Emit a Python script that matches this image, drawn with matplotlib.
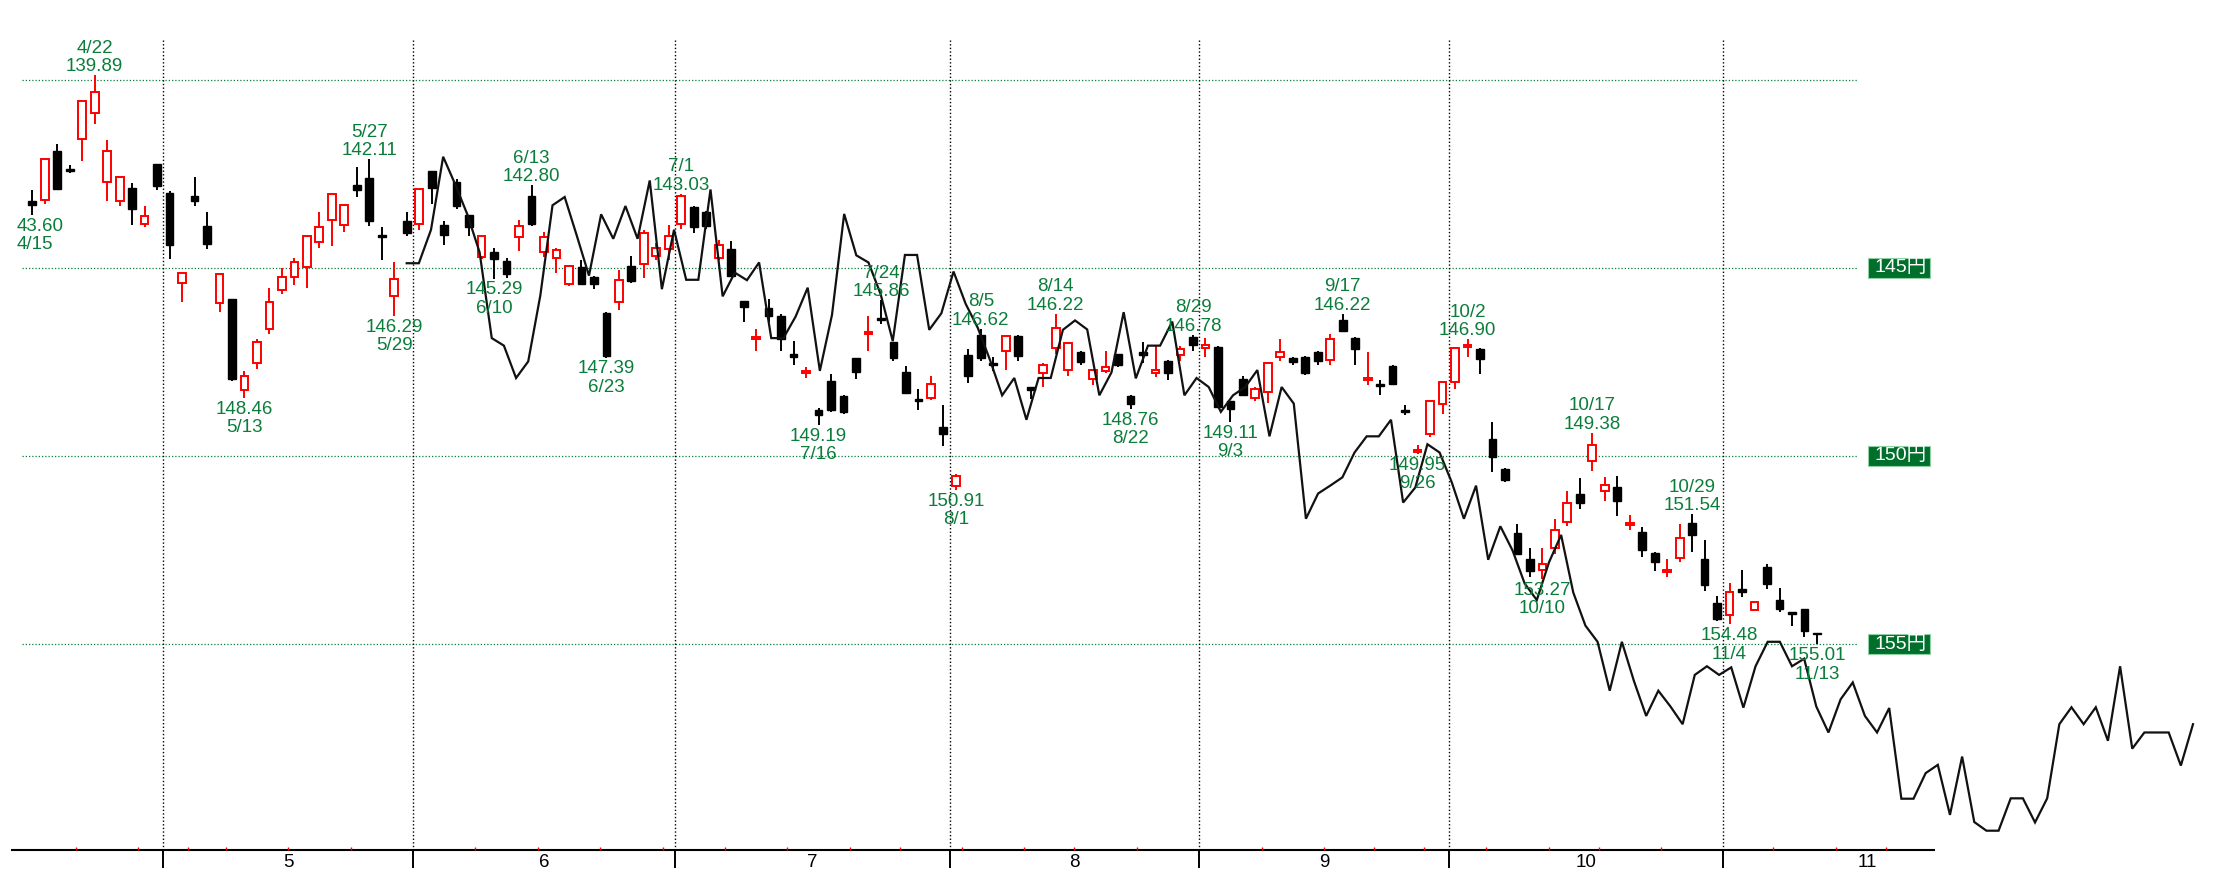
import matplotlib
matplotlib.use("Agg")
import matplotlib.pyplot as plt
from matplotlib.patches import Rectangle
import numpy as np

# ---------------------------------------------------------------- data
# daily candles, index 0 = 4/15 ... 143 = 11/13 (Tokyo business days), yen per dollar
opens = [143.23, 143.20, 141.91, 142.37, 141.59, 140.88, 142.71, 143.22, 142.87, 143.85,
         142.25, 143.01, 145.41, 143.10, 143.88, 145.95, 145.84, 148.26, 147.54, 146.64,
         145.59, 145.24, 144.99, 144.32, 143.72, 143.86, 142.80, 142.61, 144.13, 145.75,
         143.77, 143.83, 142.43, 143.86, 142.71, 143.59, 144.72, 144.57, 144.83, 144.18,
         143.10, 144.59, 144.75, 145.43, 144.98, 145.24, 146.20, 145.91, 144.95, 144.91,
         144.68, 144.51, 143.83, 143.39, 143.52, 144.75, 144.51, 145.89, 146.89, 146.08,
         146.29, 147.30, 147.79, 148.77, 148.01, 148.42, 147.41, 146.77, 146.33, 146.98,
         147.77, 148.48, 148.47, 149.23, 150.80, 147.33, 146.78, 147.52, 147.22, 146.82,
         148.17, 147.79, 147.14, 147.71, 147.25, 147.96, 147.74, 147.30, 148.41, 147.25,
         147.80, 147.47, 147.33, 146.84, 147.14, 147.11, 148.55, 147.96, 148.47, 148.30,
         147.38, 147.41, 147.36, 147.24, 147.45, 146.40, 146.87, 147.98, 148.10, 147.60,
         148.79, 149.89, 149.42, 148.63, 148.04, 147.11, 147.16, 149.56, 150.35, 152.06,
         152.74, 153.04, 152.46, 151.75, 151.00, 150.13, 150.94, 150.83, 151.84, 152.01,
         152.57, 153.09, 152.71, 151.78, 152.74, 153.91, 154.23, 153.54, 154.10, 152.94,
         153.83, 154.15, 154.08, 154.70]
closes = [143.32, 142.11, 142.92, 142.42, 140.58, 140.32, 141.89, 142.59, 143.43, 143.62,
          142.84, 144.39, 145.13, 143.22, 144.37, 145.17, 147.96, 147.88, 146.98, 145.90,
          145.25, 144.84, 144.15, 143.91, 143.04, 143.32, 142.93, 143.76, 144.17, 145.29,
          144.07, 142.92, 142.87, 144.12, 143.36, 143.91, 144.15, 144.77, 145.16, 143.88,
          143.85, 144.17, 144.54, 144.95, 145.43, 145.43, 147.34, 145.32, 145.35, 144.08,
          144.48, 144.15, 143.08, 143.93, 143.90, 144.39, 145.22, 146.04, 146.85, 146.29,
          146.90, 147.36, 147.75, 148.91, 148.77, 148.83, 147.76, 146.71, 146.39, 147.41,
          148.34, 148.55, 148.10, 149.42, 150.54, 147.88, 147.39, 147.58, 146.82, 147.34,
          148.24, 147.58, 146.60, 147.00, 147.50, 147.72, 147.63, 147.58, 148.61, 147.33,
          147.71, 147.79, 147.16, 147.05, 147.05, 148.70, 148.75, 148.39, 148.21, 147.54,
          147.24, 147.50, 147.79, 147.49, 146.90, 146.68, 147.17, 147.92, 148.14, 148.10,
          148.83, 149.84, 148.55, 148.04, 147.12, 147.05, 147.43, 150.04, 150.64, 152.60,
          153.07, 152.87, 151.97, 151.26, 151.24, 149.71, 150.77, 151.19, 151.78, 152.51,
          152.83, 153.02, 152.17, 152.10, 153.43, 154.33, 153.61, 153.61, 153.88, 153.41,
          154.08, 154.20, 154.64, 154.74]
lows = [142.93, 142.11, 141.71, 142.28, 140.58, 139.89, 141.61, 142.59, 142.74, 143.37,
        142.25, 142.96, 145.13, 142.58, 143.51, 145.17, 145.84, 147.74, 146.90, 145.54,
        145.00, 144.74, 144.15, 143.53, 143.04, 143.32, 142.32, 142.11, 143.93, 144.86,
        143.53, 142.92, 142.43, 143.77, 142.63, 143.59, 144.15, 144.48, 144.74, 143.72,
        142.80, 144.04, 144.48, 144.95, 144.80, 145.22, 146.18, 145.07, 144.70, 143.99,
        144.35, 143.87, 143.03, 143.37, 143.50, 144.26, 144.29, 145.88, 146.63, 145.84,
        146.24, 146.95, 147.63, 148.72, 147.83, 148.37, 147.40, 146.29, 145.86, 146.97,
        147.61, 148.23, 147.87, 148.66, 150.48, 147.17, 146.62, 147.36, 146.80, 146.80,
        148.17, 147.52, 146.22, 146.98, 147.20, 147.70, 147.20, 147.28, 148.38, 146.98,
        147.09, 147.45, 147.07, 146.78, 146.87, 147.09, 148.53, 147.87, 148.17, 147.52,
        146.90, 147.36, 147.34, 147.22, 146.76, 146.22, 146.85, 147.25, 147.99, 147.58,
        148.64, 149.70, 148.53, 148.00, 147.10, 146.90, 147.14, 149.11, 150.33, 151.82,
        152.46, 152.46, 151.69, 150.94, 150.58, 149.38, 150.57, 150.53, 151.56, 151.89,
        152.55, 152.74, 151.82, 151.54, 152.23, 153.72, 153.39, 153.02, 153.87, 152.87,
        153.50, 154.15, 154.06, 154.70]
highs = [143.60, 143.30, 142.92, 142.47, 142.15, 141.18, 143.22, 143.35, 143.86, 143.93,
         142.93, 144.77, 145.92, 143.36, 144.51, 146.18, 148.02, 148.46, 147.70, 146.76,
         145.71, 145.45, 145.53, 144.47, 144.43, 144.05, 143.11, 143.90, 144.80, 146.29,
         144.15, 143.99, 143.30, 144.39, 143.43, 144.15, 144.78, 145.29, 145.26, 144.55,
         143.90, 144.72, 145.13, 145.48, 145.45, 145.57, 147.39, 146.13, 145.40, 145.26,
         144.80, 144.80, 143.97, 144.07, 143.96, 144.80, 145.24, 146.43, 147.22, 146.43,
         147.22, 147.58, 147.92, 149.19, 148.83, 148.88, 147.96, 147.22, 146.49, 147.49,
         148.36, 148.77, 148.52, 149.75, 150.91, 148.07, 147.49, 147.74, 147.71, 147.47,
         148.50, 148.17, 147.28, 147.87, 147.58, 148.12, 147.79, 147.63, 148.76, 147.52,
         147.90, 147.98, 147.47, 147.22, 147.38, 148.72, 149.11, 148.41, 148.53, 148.59,
         147.49, 147.58, 147.85, 147.58, 147.58, 146.70, 147.58, 148.12, 148.39, 148.12,
         148.90, 149.95, 149.50, 148.88, 148.23, 147.38, 147.82, 150.44, 150.70, 152.62,
         153.21, 153.27, 152.60, 151.87, 151.42, 150.41, 151.20, 151.61, 151.98, 152.68,
         153.07, 153.22, 152.81, 152.55, 153.58, 154.39, 154.48, 153.74, 154.12, 153.54,
         154.14, 154.51, 154.81, 155.01]

# overlay line, one value per step, first value sits on the 5/30 candle
line_vals = [144.88, 144.88, 143.99, 142.05, 142.79, 143.59, 144.59, 146.87, 147.07, 147.93,
             147.49, 145.73, 143.34, 143.12, 144.15, 145.21, 143.58, 144.23, 143.36, 144.23,
             142.68, 145.57, 143.99, 145.32, 145.32, 142.92, 145.76, 145.13, 145.33, 144.86,
             146.87, 146.87, 146.30, 145.53, 147.74, 146.25, 143.57, 144.67, 144.86, 145.70,
             146.95, 144.66, 144.66, 146.65, 146.21, 145.10, 145.96, 146.60, 147.45, 148.39,
             147.93, 149.04, 147.93, 147.93, 146.65, 146.40, 146.64, 148.39, 147.78, 146.18,
             147.94, 147.07, 147.07, 146.43, 148.39, 147.93, 148.17, 148.83, 148.39, 148.17,
             147.72, 149.48, 148.17, 148.61, 151.67, 151.00, 150.79, 150.57, 149.91, 149.48,
             149.48, 149.04, 151.24, 150.84, 149.69, 149.91, 150.70, 151.67, 150.79, 152.76,
             151.87, 152.51, 153.39, 153.83, 152.83, 152.10, 153.63, 154.51, 154.94, 156.24,
             154.94, 155.99, 156.91, 156.24, 156.66, 157.13, 155.82, 155.59, 155.82, 155.62,
             156.69, 155.59, 154.94, 154.94, 155.59, 155.39, 156.66, 157.35, 156.47, 156.02,
             156.91, 157.35, 156.70, 159.11, 159.11, 158.43, 158.21, 159.54, 157.99, 159.73,
             159.96, 159.96, 159.10, 159.10, 159.74, 159.10, 157.13, 156.68, 157.13, 156.68,
             157.57, 155.59, 157.78, 157.35, 157.35, 157.35, 158.23, 157.13]

# labelled turning points
top_idx = [5, 27, 40, 52, 68, 76, 82, 93, 105, 115, 125, 133]
top_dates = ["4/22", "5/27", "6/13", "7/1", "7/24", "8/5", "8/14", "8/29", "9/17", "10/2",
             "10/17", "10/29"]
top_prices = ["139.89", "142.11", "142.80", "143.03", "145.86", "146.62", "146.22", "146.78",
              "146.22", "146.90", "149.38", "151.54"]
bot_idx = [17, 29, 37, 46, 63, 74, 88, 96, 111, 121, 136, 143]
bot_dates = ["5/13", "5/29", "6/10", "6/23", "7/16", "8/1", "8/22", "9/3", "9/26", "10/10",
             "11/4", "11/13"]
bot_prices = ["148.46", "146.29", "145.29", "147.39", "149.19", "150.91", "148.76", "149.11",
              "149.95", "153.27", "154.48", "155.01"]
first_label = ("43.60", "4/15")

grid_prices = [140, 145, 150, 155]
tag_prices = [145, 150, 155]
month_names = ["5", "6", "7", "8", "9", "10", "11"]
month_starts = [11, 31, 52, 74, 94, 114, 136]          # first candle of each month
week_starts = [4, 9, 13, 16, 21, 26, 36, 41, 46, 51, 56, 61, 66, 70, 75, 80, 84, 89,
               99, 104, 108, 112, 117, 122, 126, 131, 140, 145, 149]

# ---------------------------------------------------------------- layout
W, H = 2236, 880
STEP = 12.48      # px per candle
X0 = 32.3         # px of candle 0
YPX = 37.63       # px per yen
Y140 = 79.6       # px of the 140 line

GREEN = "#0b7d3b"
TAGGREEN = "#006f2c"
RED = "#ff0000"
FONT = ["Liberation Sans", "Noto Sans CJK JP", "DejaVu Sans"]

fig = plt.figure(figsize=(W / 100, H / 100), dpi=100)
ax = fig.add_axes([0, 0, 1, 1])
ax.set_xlim(-X0 / STEP, (W - X0) / STEP)
ax.set_ylim(140 + (H - Y140) / YPX, 140 - Y140 / YPX)
ax.axis("off")


def px2i(px):
    return (px - X0) / STEP


def px2p(py):
    return 140 + (py - Y140) / YPX


axis_y = px2p(850)
x_left, x_right = px2i(11), px2i(1935)

# grid
ax.hlines(grid_prices, px2i(22), px2i(1858), colors=GREEN, lw=0.9,
          linestyles=(0, (1, 1.6)), zorder=1)
bounds = np.array(month_starts) - 0.5
ax.vlines(bounds, px2p(40), axis_y, colors="black", lw=1.0,
          linestyles=(0, (1, 1.6)), zorder=1)

# price tags on the right
for p in tag_prices:
    ax.add_patch(Rectangle((px2i(1868), p - 0.26), px2i(1930) - px2i(1868), 0.52,
                           facecolor=TAGGREEN, edgecolor="#8fd0a5", lw=0.8, zorder=3))
    ax.text(px2i(1927), p, f"{p}円", color="white", ha="right", va="center",
            fontsize=14, family=FONT, zorder=4)

# candles
idx = np.arange(len(opens))
o = np.array(opens)
c = np.array(closes)
up = c < o                      # red hollow (yen stronger)
top = np.minimum(o, c)
hgt = np.maximum(np.abs(c - o), 0.04)
wick_col = np.where(up, RED, "black")
ax.vlines(idx, lows, highs, colors=wick_col, lw=1.4, zorder=2)
ax.bar(idx[up], hgt[up], bottom=top[up], width=0.62, color="white",
       edgecolor=RED, lw=1.4, zorder=3)
ax.bar(idx[~up], hgt[~up], bottom=top[~up], width=0.62, color="black",
       edgecolor="black", lw=1.0, zorder=3)

# overlay line (own spacing, runs past the axis end)
lx = np.linspace(30, px2i(2193), len(line_vals))
ax.plot(lx, line_vals, color="#111111", lw=1.6, zorder=4, solid_joinstyle="miter")

# turning-point labels
tkw = dict(color=GREEN, fontsize=13.5, family=FONT, ha="center", linespacing=1.1,
           textcoords="offset points", zorder=5)
for i, d, p in zip(top_idx, top_dates, top_prices):
    ax.annotate(f"{d}\n{p}", xy=(i, lows[i]), xytext=(0, 0), va="bottom", **tkw)
for i, d, p in zip(bot_idx, bot_dates, bot_prices):
    ax.annotate(f"{p}\n{d}", xy=(i, highs[i]), xytext=(0, -2), va="top", **tkw)
tkw["ha"] = "left"
ax.annotate(f"{first_label[0]}\n{first_label[1]}", xy=(px2i(17), highs[0]),
            xytext=(0, -2), va="top", multialignment="left", **tkw)

# time axis
ax.hlines(axis_y, x_left, x_right, colors="black", lw=1.5, zorder=3)
ax.vlines(bounds, axis_y, px2p(868), colors="black", lw=1.4, zorder=3)
ax.vlines(np.array(week_starts) - 0.5, px2p(846.5), axis_y, colors=RED, lw=1.0, zorder=3)
ends = list(bounds[1:]) + [158.5]
for name, a, b in zip(month_names, bounds, ends):
    ax.text((a + b) / 2, px2p(862), name, ha="center", va="center", fontsize=13.5,
            family=FONT, color="black")

fig.savefig("out.png", dpi=100)
